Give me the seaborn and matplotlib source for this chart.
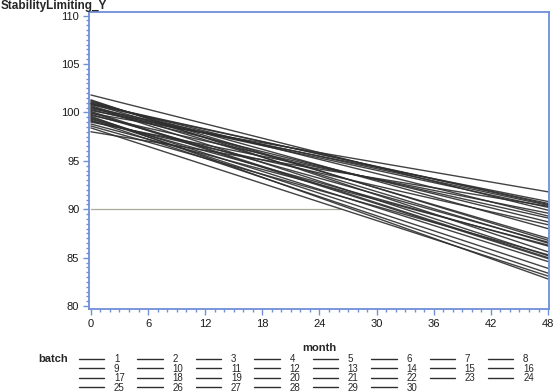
import numpy as np
import pandas as pd
import matplotlib
matplotlib.use("Agg")
import matplotlib.pyplot as plt
import seaborn as sns
from matplotlib.ticker import MultipleLocator

# ---- data ----
batches = list(range(1, 31))
months = [0, 48]
y_at_0 = [100.9, 101.8, 99.8, 100.3, 98.0, 100.6, 99.9, 101.2, 99.5, 100.8,
          99.2, 101.0, 100.1, 98.8, 100.4, 99.6, 101.1, 99.0, 100.7, 99.4,
          100.2, 98.6, 100.9, 99.7, 101.3, 98.4, 100.5, 99.3, 100.0, 99.1]
y_at_48 = [90.5, 89.9, 86.6, 88.7, 90.3, 85.2, 91.8, 86.8, 84.6, 90.6,
           83.4, 89.3, 85.0, 86.3, 90.2, 82.8, 88.0, 89.6, 86.5, 83.9,
           90.8, 85.3, 87.0, 89.1, 85.6, 83.1, 90.4, 86.2, 84.9, 88.4]
limit_value = 90
limit_month_end = 26.2
x_ticks = [0, 6, 12, 18, 24, 30, 36, 42, 48]
y_ticks = [80, 85, 90, 95, 100, 105, 110]

rows = []
for b, a, e in zip(batches, y_at_0, y_at_48):
    rows.append({"batch": str(b), "month": months[0], "Y": a})
    rows.append({"batch": str(b), "month": months[1], "Y": e})
df = pd.DataFrame(rows)

sns.set_style("white")
plt.rcParams["font.family"] = ["Liberation Sans", "DejaVu Sans"]

W, H = 553, 392
fig = plt.figure(figsize=(W / 100, H / 100), dpi=100)
ax = fig.add_axes([89 / W, 1 - 309 / H, (549 - 89) / W, (309 - 11.7) / H])

blue = "#6f8fd8"
hue_order = [str(b) for b in batches]
sns.lineplot(data=df, x="month", y="Y", hue="batch", hue_order=hue_order,
             palette=["#2e2e2e"] * len(batches), linewidth=1.0, alpha=0.9,
             errorbar=None, ax=ax, legend=True)

ax.plot([0, limit_month_end], [limit_value, limit_value], color="#a9a99c",
        linewidth=0.9, zorder=1)

ax.set_xlim(-0.2, 48.1)
ax.set_ylim(79.7, 110.4)
ax.set_xticks(x_ticks)
ax.set_yticks(y_ticks)
ax.xaxis.set_minor_locator(MultipleLocator(1))
ax.yaxis.set_minor_locator(MultipleLocator(0.5))
for s in ax.spines.values():
    s.set_color(blue)
    s.set_linewidth(1.3)
ax.tick_params(axis="both", which="major", direction="out", length=4, width=1,
               color=blue, labelsize=8, labelcolor="#1a1a1a", pad=3)
ax.tick_params(axis="both", which="minor", direction="out", length=2.5,
               width=1, color=blue)
ax.tick_params(bottom=True, left=True, top=False, right=False, which="both")

ax.set_xlabel("month", fontsize=8, fontweight="bold", labelpad=10)
ax.set_ylabel("")
fig.text(1 / W, 1 - 0.5 / H, "StabilityLimiting_Y", fontsize=8.5,
         fontweight="bold", ha="left", va="top")

# legend: reorder so column-major filling shows row-major order
handles, labels = ax.get_legend_handles_labels()
ax.get_legend().remove()
lab2h = dict(zip(labels, handles))
ncol = 8
order = []
for c in range(ncol):
    for r in range(4):
        b = c + 1 + r * ncol
        if b <= len(batches):
            order.append(str(b))
leg = fig.legend([lab2h[l] for l in order], order, ncol=ncol,
                 loc="upper left", bbox_to_anchor=(79 / W, 1 - 354 / H),
                 frameon=False, fontsize=7, borderpad=0, borderaxespad=0,
                 handlelength=2.6, handletextpad=1.0, columnspacing=1.3,
                 labelspacing=-0.05)
for line in leg.get_lines():
    line.set_linewidth(1.0)
    line.set_alpha(1)
fig.text(38 / W, 1 - 359 / H, "batch", fontsize=8, fontweight="bold",
         ha="left", va="center")

fig.savefig("out.png", dpi=100)
